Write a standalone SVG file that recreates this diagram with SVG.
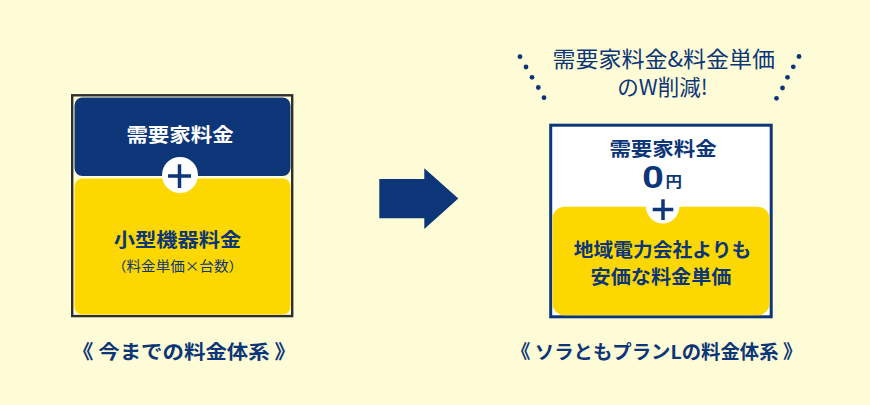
<svg xmlns="http://www.w3.org/2000/svg" width="870" height="405" viewBox="0 0 870 405">
  <defs>
    <style>
      .jp { font-family: "Noto Sans CJK JP", "Noto Sans", sans-serif; font-weight: 700; text-anchor: middle; }
      .reg { font-weight: 400; }
      .navy { fill: #0c3678; }
      .white { fill: #ffffff; }
      .plus { stroke: #0c3678; stroke-width: 3.5; stroke-linecap: butt; fill: none; }
      .dot { fill: #0c3678; }
    </style>
  </defs>
  <rect x="0" y="0" width="870" height="405" fill="#fefcd6"/>

  <!-- Left: current pricing -->
  <g id="left-frame">
    <rect x="72.2" y="95.3" width="220" height="220.8" fill="none" stroke="#2e2e2e" stroke-width="2.4"/>
  </g>
  <g id="left-demand">
    <rect x="74.5" y="97.5" width="216" height="78.5" rx="8" fill="#0c3678"/>
    <text class="jp white" font-size="19.5" transform="translate(180,141.8) scale(1.1,1)">需要家料金</text>
  </g>
  <g id="left-device">
    <rect x="74.5" y="178.5" width="216" height="136" rx="8" fill="#fdd800"/>
    <text class="jp navy" font-size="19" transform="translate(177.5,247) scale(1.12,1)">小型機器料金</text>
    <text class="jp navy reg" font-size="13.5" transform="translate(177.5,270.5) scale(1.08,1)">（料金単価×台数）</text>
  </g>
  <g id="left-plus">
    <circle cx="180" cy="175" r="18" fill="#ffffff"/>
    <line class="plus" x1="168" y1="176" x2="191" y2="176"/>
    <line class="plus" x1="179.5" y1="164.3" x2="179.5" y2="188"/>
  </g>
  <text class="jp navy" font-size="19.5" transform="translate(184,358.5) scale(1.1,1)">《 今までの料金体系 》</text>

  <!-- Connector arrow -->
  <g id="connectors">
    <polygon points="379.3,179 424.3,179 424.3,168.3 458.3,198.5 424.3,229 424.3,218.3 379.3,218.3" fill="#0c3678"/>
  </g>

  <!-- Right: new plan -->
  <g id="right-headline">
    <circle class="dot" cx="520" cy="56.7" r="2.4"/>
    <circle class="dot" cx="526" cy="67" r="2.4"/>
    <circle class="dot" cx="532" cy="77.3" r="2.4"/>
    <circle class="dot" cx="538.3" cy="87.5" r="2.4"/>
    <circle class="dot" cx="544" cy="97.7" r="2.4"/>
    <circle class="dot" cx="799" cy="56.5" r="2.4"/>
    <circle class="dot" cx="793.3" cy="66.8" r="2.4"/>
    <circle class="dot" cx="787.5" cy="77.3" r="2.4"/>
    <circle class="dot" cx="782.5" cy="88" r="2.4"/>
    <circle class="dot" cx="776.5" cy="98.3" r="2.4"/>
    <text class="jp navy reg" font-size="21.5" transform="translate(663.7,67) scale(1.07,1)">需要家料金&amp;料金単価</text>
    <text class="jp navy reg" font-size="21.5" transform="translate(662.5,95)">のW削減!</text>
  </g>
  <g id="right-frame">
    <rect x="550.7" y="125.2" width="220.5" height="191.6" fill="#ffffff" stroke="#0c3678" stroke-width="3"/>
  </g>
  <g id="right-demand">
    <text class="jp navy" font-size="19.5" transform="translate(663,155.5) scale(1.1,1)">需要家料金</text>
    <text class="navy" font-family="'Liberation Sans', Arial, sans-serif" font-weight="700" text-anchor="middle" font-size="31" transform="translate(653,188) scale(1.25,1)">0</text>
    <text class="jp navy" font-size="15" transform="translate(673.7,187) scale(1.1,1)">円</text>
  </g>
  <g id="right-unit">
    <rect x="552.5" y="206.7" width="217" height="108.6" rx="12" fill="#fdd800"/>
    <circle cx="662.7" cy="206.7" r="16.7" fill="#ffffff"/>
    <text class="jp navy" font-size="19" transform="translate(662.5,257) scale(1.04,1)">地域電力会社よりも</text>
    <text class="jp navy" font-size="19" transform="translate(661,283.5) scale(1.06,1)">安価な料金単価</text>
  </g>
  <g id="right-plus">
    <line class="plus" x1="652.7" y1="209.5" x2="673.3" y2="209.5"/>
    <line class="plus" x1="663" y1="199.3" x2="663" y2="220"/>
  </g>
  <text class="jp navy" font-size="19" transform="translate(656.7,358.5) scale(1.02,1)">《 ソラともプランLの料金体系 》</text>
</svg>
